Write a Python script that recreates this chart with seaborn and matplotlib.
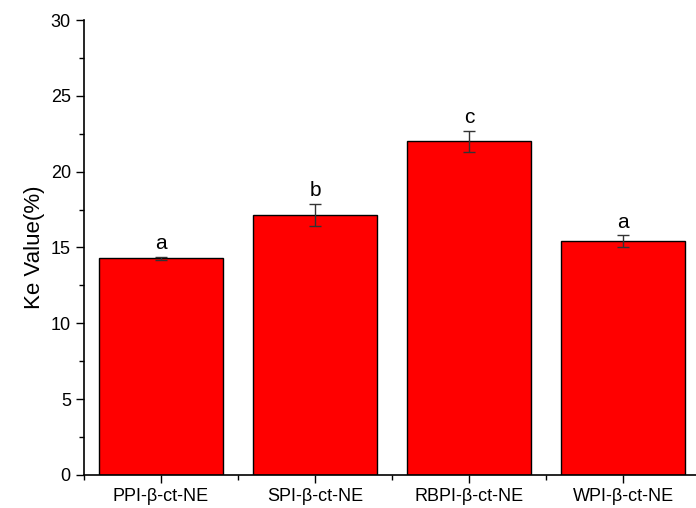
import matplotlib
matplotlib.use("Agg")
import matplotlib.pyplot as plt
from matplotlib.ticker import MultipleLocator
import seaborn as sns
import pandas as pd

# --- DATA ---
samples = ['PPI-β-ct-NE', 'SPI-β-ct-NE', 'RBPI-β-ct-NE', 'WPI-β-ct-NE']
ke_value = [14.3, 17.15, 22.0, 15.4]
ke_err = [0.1, 0.7, 0.7, 0.4]
letters = ['a', 'b', 'c', 'a']

df = pd.DataFrame({'sample': samples, 'ke': ke_value})

sns.set_style('ticks')
plt.rcParams['font.family'] = ['Liberation Sans', 'DejaVu Sans']
plt.rcParams['text.color'] = 'black'
plt.rcParams['axes.labelcolor'] = 'black'
plt.rcParams['xtick.color'] = 'black'
plt.rcParams['ytick.color'] = 'black'
plt.rcParams['axes.edgecolor'] = 'black'

fig = plt.figure(figsize=(6.96, 5.08), dpi=100)
ax = fig.add_axes([0.1207, 0.065, 0.879, 0.8956])

sns.barplot(data=df, x='sample', y='ke', color='#ff0000', saturation=1,
            width=0.805, edgecolor='black', linewidth=1.0, ax=ax)
ax.errorbar(range(len(samples)), ke_value, yerr=ke_err, fmt='none',
            ecolor='#333333', elinewidth=1, capsize=4, capthick=1)

for i, (v, e, t) in enumerate(zip(ke_value, ke_err, letters)):
    ax.text(i, v + e + 0.25, t, ha='center', va='bottom', fontsize=15)

ax.set_ylim(0, 30)
ax.set_xlim(-0.5, 3.47)
ax.yaxis.set_major_locator(MultipleLocator(5))
ax.yaxis.set_minor_locator(MultipleLocator(2.5))
ax.set_xticks(range(len(samples)))
ax.set_xticks([-0.5, 0.5, 1.5, 2.5], minor=True)
ax.tick_params(axis='both', which='major', direction='out', length=6, width=1, labelsize=13)
ax.tick_params(axis='both', which='minor', direction='out', length=3.5, width=1)
ax.set_xlabel('')
ax.set_ylabel('Ke Value(%)', fontsize=16)
sns.despine(ax=ax)
for s in ['left', 'bottom']:
    ax.spines[s].set_linewidth(1.2)

fig.savefig('out.png', dpi=100)
